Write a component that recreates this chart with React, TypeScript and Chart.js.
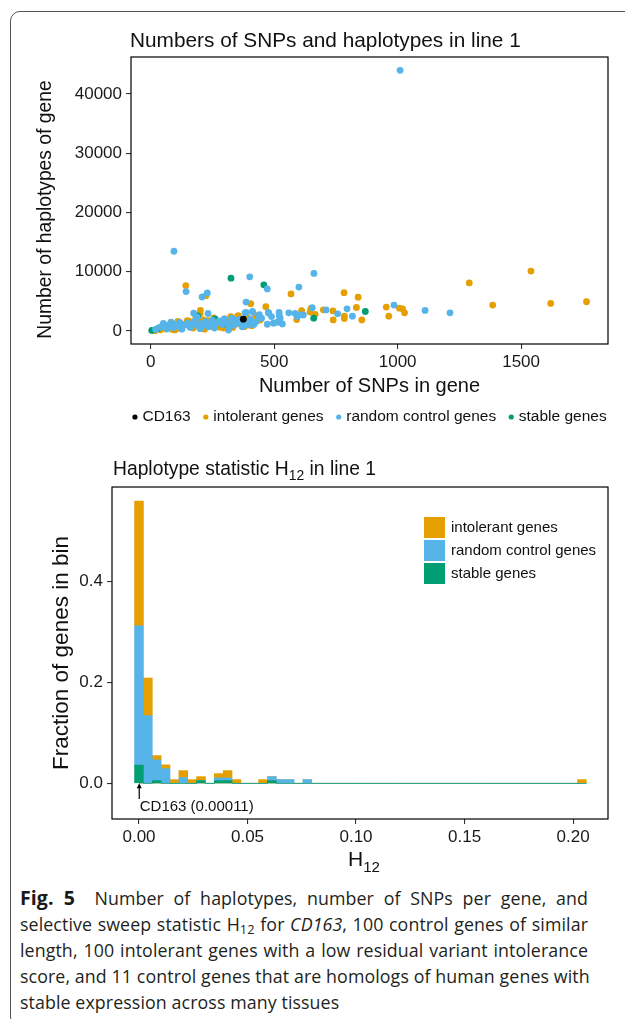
import React, { useEffect, useRef } from "react";
import { Chart, registerables } from "chart.js";

Chart.register(...registerables);

const FONT = '"Liberation Sans", Arial, Helvetica, sans-serif';
const COL_CD163 = "#000000";
const COL_INTOL = "#E69F00";
const COL_RANDOM = "#56B4E9";
const COL_STABLE = "#009E73";

// ---------------- Panel A: SNPs vs haplotypes ----------------
const titleA = "Numbers of SNPs and haplotypes in line 1";
const xTitleA = "Number of SNPs in gene";
const yTitleA = "Number of haplotypes of gene";
const seriesNames = ["CD163", "intolerant genes", "random control genes", "stable genes"];

const cd163Points = [[375, 2000]];

const intolerantPoints = [
  [1765, 4940], [1620, 4660], [1540, 10110], [1385, 4370], [1290, 8120],
  [1028, 3070], [1020, 3750], [1007, 3860], [964, 2500], [954, 4030],
  [855, 1870], [840, 5700], [833, 3970], [784, 2500], [784, 2100], [783, 6470],
  [739, 1870], [738, 3380], [699, 3580], [666, 2810], [649, 3810], [645, 3190],
  [611, 3450], [591, 1930], [568, 6250], [466, 4090], [443, 1870], [437, 1820],
  [431, 2270], [405, 4600], [379, 730], [355, 2610], [351, 2480], [324, 2440],
  [224, 5960], [201, 3460], [200, 2900], [183, 2330], [142, 7670], [18, 60],
  [148, 1760], [155, 1650], [158, 800], [186, 1760], [213, 1870], [224, 1590],
  [231, 1760], [267, 1140], [271, 1420], [274, 970],
  [40, 200], [62, 350], [75, 600], [88, 250], [105, 900], [118, 450], [130, 1100],
  [165, 1300], [172, 500], [195, 1050], [205, 650], [218, 300], [240, 1250],
  [250, 750], [260, 1550], [285, 1300], [295, 500], [305, 900], [318, 1600],
  [332, 600], [345, 1150], [362, 1550], [395, 1250], [410, 900], [425, 2600],
  [300, 2050], [255, 2200], [180, 950], [110, 1600], [98, 180],
  [235, 850], [280, 650], [350, 1900], [390, 2300],
];

const randomPoints = [
  [1010, 44000], [94, 13460], [401, 9150], [661, 9710], [472, 7100], [600, 7420],
  [143, 6650], [229, 6420], [208, 5740], [386, 4890], [1212, 3070], [1111, 3470],
  [985, 4370], [817, 2500], [795, 3750], [757, 2900], [710, 3550], [654, 3920],
  [618, 2700], [605, 2730], [585, 2960], [593, 2440], [559, 3070], [520, 3120],
  [521, 2560], [524, 2160], [533, 1190], [512, 1480], [497, 1310], [476, 3120],
  [478, 3010], [472, 1140], [449, 2160], [489, 2440], [440, 2780], [418, 1190],
  [417, 1080], [413, 3180], [412, 3290], [386, 3120], [382, 3070], [436, 2440],
  [174, 3010], [232, 2950], [188, 2330], [328, 2160], [315, 170], [327, 1020], [339, 1420],
  [20, 250], [38, 650], [51, 1300], [56, 900], [66, 350], [71, 1000], [82, 1500],
  [90, 550], [98, 1150], [110, 800], [118, 1450], [126, 300], [139, 1000], [150, 1350],
  [160, 600], [170, 1150], [179, 1650], [190, 900], [200, 400], [206, 1300], [215, 1000],
  [222, 1600], [233, 700], [242, 1200], [250, 1800], [258, 500], [265, 1300],
  [278, 1700], [290, 1100], [298, 2050], [305, 1500], [318, 600], [335, 950],
  [345, 1800], [358, 1300], [362, 2000], [370, 700], [380, 1600], [395, 1000],
  [403, 2000], [425, 1500],
];

const stablePoints = [
  [4, 100], [30, 420], [190, 2550], [260, 2050], [325, 8920],
  [458, 7790], [660, 2160], [869, 3290], [300, 1200],
];

const snpTicks = [0, 500, 1000, 1500];
const haplotypeTicks = [0, 10000, 20000, 30000, 40000];
const snpRange = [-80, 1852];
const haplotypeRange = [-2194, 46245];

// ---------------- Panel B: H12 histogram ----------------
const titleBParts = ["Haplotype statistic H", "12", " in line 1"];
const xTitleBParts = ["H", "12", ""];
const yTitleB = "Fraction of genes in bin";
const histSeriesNames = ["intolerant genes", "random control genes", "stable genes"];

const h12BinCenters = [
  0, 0.00408, 0.00816, 0.01224, 0.01633, 0.02041, 0.02449, 0.02857, 0.03265, 0.03673,
  0.04082, 0.0449, 0.04898, 0.05306, 0.05714, 0.06122, 0.06531, 0.06939, 0.07347, 0.07755,
  0.08163, 0.08571, 0.0898, 0.09388, 0.09796, 0.10204, 0.10612, 0.1102, 0.11429, 0.11837,
  0.12245, 0.12653, 0.13061, 0.13469, 0.13878, 0.14286, 0.14694, 0.15102, 0.1551, 0.15918,
  0.16327, 0.16735, 0.17143, 0.17551, 0.17959, 0.18367, 0.18776, 0.19184, 0.19592, 0.2, 0.20408,
];

const h12Stable = [
  0.036, 0, 0.0053, 0, 0, 0, 0, 0.0053, 0, 0.0053,
  0.0053, 0, 0, 0, 0, 0.0053, 0, 0, 0, 0,
  0, 0, 0, 0, 0, 0, 0, 0, 0, 0,
  0, 0, 0, 0, 0, 0, 0, 0, 0, 0,
  0, 0, 0, 0, 0, 0, 0, 0, 0, 0, 0,
];
const h12Random = [
  0.276, 0.134, 0.041, 0.029, 0, 0.0112, 0, 0, 0, 0.0053,
  0.0053, 0, 0, 0, 0, 0.0079, 0.0073, 0.0073, 0, 0.0073,
  0, 0, 0, 0, 0, 0, 0, 0, 0, 0,
  0, 0, 0, 0, 0, 0, 0, 0, 0, 0,
  0, 0, 0, 0, 0, 0, 0, 0, 0, 0, 0,
];
const h12Intolerant = [
  0.247, 0.0745, 0.0086, 0.0075, 0.0073, 0.0139, 0.0073, 0.0079, 0, 0.0086,
  0.0145, 0.0073, 0, 0, 0.0073, 0, 0, 0, 0, 0,
  0, 0, 0, 0, 0, 0, 0, 0, 0, 0,
  0, 0, 0, 0, 0, 0, 0, 0, 0, 0,
  0, 0, 0, 0, 0, 0, 0, 0, 0, 0, 0.0073,
];

const h12Ticks = [0, 0.05, 0.1, 0.15, 0.2];
const fractionTicks = [0, 0.2, 0.4];
const h12Range = [-0.01244, 0.2161];
const fractionRange = [-0.0707, 0.5867];
const cd163H12 = 0.00011;
const cd163ArrowFrom = -0.031;
const cd163LabelY = -0.046;

// ---------------- helpers ----------------
function drawRich(ctx: CanvasRenderingContext2D, parts: string[], x: number, y: number, size: number, align: "left" | "center") {
  const subSize = size * 0.72;
  ctx.textBaseline = "alphabetic";
  ctx.textAlign = "left";
  const widths = parts.map((p, i) => {
    ctx.font = `${i === 1 ? subSize : size}px ${FONT}`;
    return ctx.measureText(p).width;
  });
  const total = widths.reduce((a, b) => a + b, 0);
  let cx = align === "center" ? x - total / 2 : x;
  parts.forEach((p, i) => {
    ctx.font = `${i === 1 ? subSize : size}px ${FONT}`;
    ctx.fillText(p, cx, i === 1 ? y + size * 0.28 : y);
    cx += widths[i];
  });
}

const panelAPlugin = {
  id: "panelA",
  afterDraw(chart: any) {
    const { ctx, chartArea: a } = chart;
    ctx.save();
    ctx.strokeStyle = "#000";
    ctx.lineWidth = 1.2;
    ctx.strokeRect(a.left, a.top, a.right - a.left, a.bottom - a.top);

    ctx.fillStyle = "#111";
    ctx.font = `20.8px ${FONT}`;
    ctx.textAlign = "left";
    ctx.textBaseline = "alphabetic";
    ctx.fillText(titleA, a.left - 1, 47);

    ctx.textAlign = "center";
    ctx.textBaseline = "middle";
    ctx.font = `20px ${FONT}`;
    ctx.fillText(xTitleA, (a.left + a.right) / 2, 386);

    ctx.save();
    ctx.font = `19.3px ${FONT}`;
    ctx.translate(46, (a.top + a.bottom) / 2 + 9);
    ctx.rotate(-Math.PI / 2);
    ctx.fillText(yTitleA, 0, 0);
    ctx.restore();

    // legend
    const colors = [COL_CD163, COL_INTOL, COL_RANDOM, COL_STABLE];
    ctx.font = `15.5px ${FONT}`;
    const r = 2.6, dotToText = 7.5, gap = 12.5;
    const tw = seriesNames.map((s) => ctx.measureText(s).width);
    const total = tw.reduce((s, w) => s + w + r + dotToText, 0) + gap * (seriesNames.length - 1);
    let x = (a.left + a.right) / 2 - total / 2;
    const ly = 417;
    ctx.textAlign = "left";
    ctx.textBaseline = "middle";
    seriesNames.forEach((s, i) => {
      ctx.fillStyle = colors[i];
      ctx.beginPath();
      ctx.arc(x + r, ly, r, 0, Math.PI * 2);
      ctx.fill();
      ctx.fillStyle = "#111";
      ctx.fillText(s, x + r + dotToText, ly);
      x += r + dotToText + tw[i] + gap;
    });
    ctx.restore();
  },
};

const panelBPlugin = {
  id: "panelB",
  beforeDatasetsDraw(chart: any) {
    const { ctx, scales } = chart;
    const y0 = scales.y.getPixelForValue(0);
    ctx.save();
    ctx.strokeStyle = "#b7c8a8";
    ctx.lineWidth = 1.3;
    ctx.beginPath();
    ctx.moveTo(scales.x.getPixelForValue(h12BinCenters[0]), y0);
    ctx.lineTo(scales.x.getPixelForValue(h12BinCenters[h12BinCenters.length - 1]), y0);
    ctx.stroke();
    ctx.restore();
  },
  afterDraw(chart: any) {
    const { ctx, chartArea: a, scales } = chart;
    ctx.save();
    ctx.strokeStyle = "#000";
    ctx.lineWidth = 1.2;
    ctx.strokeRect(a.left, a.top, a.right - a.left, a.bottom - a.top);

    // arrow + label
    const ax = scales.x.getPixelForValue(cd163H12);
    const yTip = scales.y.getPixelForValue(0);
    const yFrom = scales.y.getPixelForValue(cd163ArrowFrom);
    ctx.strokeStyle = "#000";
    ctx.fillStyle = "#000";
    ctx.lineWidth = 1.2;
    ctx.beginPath();
    ctx.moveTo(ax, yFrom);
    ctx.lineTo(ax, yTip + 3);
    ctx.stroke();
    ctx.beginPath();
    ctx.moveTo(ax, yTip);
    ctx.lineTo(ax - 2.5, yTip + 5);
    ctx.lineTo(ax + 2.5, yTip + 5);
    ctx.closePath();
    ctx.fill();
    ctx.font = `15px ${FONT}`;
    ctx.textAlign = "left";
    ctx.textBaseline = "middle";
    ctx.fillStyle = "#111";
    ctx.fillText(`CD163 (${cd163H12})`, ax + 0.5, scales.y.getPixelForValue(cd163LabelY));

    // titles
    ctx.fillStyle = "#111";
    drawRich(ctx, titleBParts, a.left + 1, 35, 19.3, "left");
    drawRich(ctx, xTitleBParts, (a.left + a.right) / 2 + 4, 426, 21, "center");

    ctx.save();
    ctx.font = `22.5px ${FONT}`;
    ctx.textAlign = "center";
    ctx.textBaseline = "middle";
    ctx.translate(62, (a.top + a.bottom) / 2);
    ctx.rotate(-Math.PI / 2);
    ctx.fillText(yTitleB, 0, 0);
    ctx.restore();

    // legend (inside panel)
    const cols = [COL_INTOL, COL_RANDOM, COL_STABLE];
    ctx.font = `15px ${FONT}`;
    ctx.textAlign = "left";
    ctx.textBaseline = "middle";
    histSeriesNames.forEach((s, i) => {
      const top = 77 + i * 23;
      ctx.fillStyle = cols[i];
      ctx.fillRect(424, top, 21, 21);
      ctx.fillStyle = "#111";
      ctx.fillText(s, 451, top + 10.5);
    });
    ctx.restore();
  },
};

const tickFont = { family: FONT, size: 17 };

function scatterConfig(): any {
  const toXY = (arr: number[][]) => arr.map(([x, y]) => ({ x, y }));
  const ds = (label: string, data: number[][], color: string) => ({
    label,
    data: toXY(data),
    backgroundColor: color,
    borderWidth: 0,
    pointRadius: 3.4,
    pointHoverRadius: 3.4,
  });
  return {
    type: "scatter",
    data: {
      datasets: [
        ds(seriesNames[0], cd163Points, COL_CD163),
        ds(seriesNames[2], randomPoints, COL_RANDOM),
        ds(seriesNames[3], stablePoints, COL_STABLE),
        ds(seriesNames[1], intolerantPoints, COL_INTOL),
      ],
    },
    options: {
      animation: false,
      responsive: false,
      events: [],
      layout: { padding: { left: 0, top: 57, right: 17, bottom: 0 } },
      plugins: { legend: { display: false }, tooltip: { enabled: false }, title: { display: false } },
      scales: {
        x: {
          type: "linear",
          min: snpRange[0],
          max: snpRange[1],
          afterBuildTicks: (s: any) => { s.ticks = snpTicks.map((v) => ({ value: v })); },
          afterFit: (s: any) => { s.height = 96; },
          grid: { drawOnChartArea: false, drawTicks: true, tickLength: 5, color: "#333", lineWidth: 1.1 },
          border: { display: false },
          ticks: { font: tickFont, color: "#1a1a1a", padding: 3, maxRotation: 0, autoSkip: false, callback: (v: any) => String(v) },
        },
        y: {
          type: "linear",
          min: haplotypeRange[0],
          max: haplotypeRange[1],
          afterBuildTicks: (s: any) => { s.ticks = haplotypeTicks.map((v) => ({ value: v })); },
          afterFit: (s: any) => { s.width = 131; },
          grid: { drawOnChartArea: false, drawTicks: true, tickLength: 5, color: "#333", lineWidth: 1.1 },
          border: { display: false },
          ticks: { font: tickFont, color: "#1a1a1a", padding: 4, autoSkip: false, callback: (v: any) => String(v) },
        },
      },
    },
    plugins: [panelAPlugin],
  };
}

function histConfig(): any {
  const ds = (label: string, vals: number[], color: string) => ({
    label,
    data: h12BinCenters.map((x, i) => ({ x, y: vals[i] })),
    backgroundColor: color,
    borderWidth: 0,
    barPercentage: 1,
    categoryPercentage: 1,
  });
  return {
    type: "bar",
    data: {
      datasets: [
        ds(histSeriesNames[2], h12Stable, COL_STABLE),
        ds(histSeriesNames[1], h12Random, COL_RANDOM),
        ds(histSeriesNames[0], h12Intolerant, COL_INTOL),
      ],
    },
    options: {
      animation: false,
      responsive: false,
      events: [],
      layout: { padding: { left: 0, top: 47, right: 17, bottom: 0 } },
      plugins: { legend: { display: false }, tooltip: { enabled: false }, title: { display: false } },
      scales: {
        x: {
          type: "linear",
          stacked: true,
          offset: false,
          min: h12Range[0],
          max: h12Range[1],
          afterBuildTicks: (s: any) => { s.ticks = h12Ticks.map((v) => ({ value: v })); },
          afterFit: (s: any) => { s.height = 61; },
          grid: { offset: false, drawOnChartArea: false, drawTicks: true, tickLength: 5, color: "#333", lineWidth: 1.1 },
          border: { display: false },
          ticks: { font: tickFont, color: "#1a1a1a", padding: 3, maxRotation: 0, autoSkip: false, callback: (v: any) => Number(v).toFixed(2) },
        },
        y: {
          type: "linear",
          stacked: true,
          beginAtZero: false,
          min: fractionRange[0],
          max: fractionRange[1],
          afterBuildTicks: (s: any) => { s.ticks = fractionTicks.map((v) => ({ value: v })); },
          afterFit: (s: any) => { s.width = 112; },
          grid: { drawOnChartArea: false, drawTicks: true, tickLength: 5, color: "#333", lineWidth: 1.1 },
          border: { display: false },
          ticks: { font: tickFont, color: "#1a1a1a", padding: 4, autoSkip: false, callback: (v: any) => Number(v).toFixed(1) },
        },
      },
    },
    plugins: [panelBPlugin],
  };
}

export default function App() {
  const refA = useRef<HTMLCanvasElement>(null);
  const refB = useRef<HTMLCanvasElement>(null);

  useEffect(() => {
    const a = new Chart(refA.current as HTMLCanvasElement, scatterConfig());
    const b = new Chart(refB.current as HTMLCanvasElement, histConfig());
    return () => {
      a.destroy();
      b.destroy();
    };
  }, []);

  const sub = { fontSize: "0.72em", verticalAlign: "-0.25em", lineHeight: 0 } as React.CSSProperties;
  const just = { textAlign: "justify", textAlignLast: "justify" } as React.CSSProperties;

  return (
    <div style={{ position: "absolute", left: 0, top: 0, width: 625, height: 1019, overflow: "hidden", background: "#fff" }}>
      <div
        style={{
          position: "absolute",
          left: 10,
          top: 11,
          width: 700,
          height: 1016,
          border: "1.5px solid #555",
          borderRadius: 10,
          boxSizing: "border-box",
        }}
      />
      <canvas ref={refA} width={625} height={440} style={{ position: "absolute", left: 0, top: 0 }} />
      <canvas ref={refB} width={625} height={440} style={{ position: "absolute", left: 0, top: 440 }} />
      <div
        style={{
          position: "absolute",
          left: 20,
          top: 885,
          width: 568,
          fontFamily: '"Open Sans", "Noto Sans", sans-serif',
          fontSize: 17.8,
          letterSpacing: 0.1,
          lineHeight: "26px",
          color: "#231f20",
          whiteSpace: "nowrap",
        }}
      >
        <div style={just}>
          <b style={{ fontSize: 19.5, color: "#1a1a1a" }}>Fig. 5</b>&nbsp; Number of haplotypes, number of SNPs per gene, and
        </div>
        <div style={just}>
          selective sweep statistic H<span style={sub}>12</span> for <i>CD163</i>, 100 control genes of similar
        </div>
        <div style={just}>length, 100 intolerant genes with a low residual variant intolerance</div>
        <div style={just}>score, and 11 control genes that are homologs of human genes with</div>
        <div>stable expression across many tissues</div>
      </div>
    </div>
  );
}
